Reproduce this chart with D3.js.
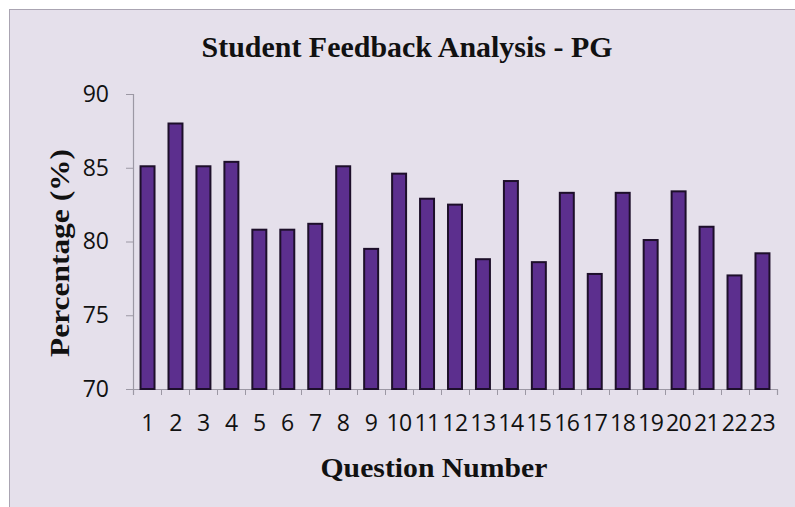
<!DOCTYPE html>
<html>
<head>
<meta charset="utf-8">
<script src="https://cdn.jsdelivr.net/npm/d3@7"></script>
<style>
  body { margin: 0; background: #ffffff; }
</style>
</head>
<body>
<div id="chart"></div>
<script>
// data
var questions = ["1","2","3","4","5","6","7","8","9","10","11","12","13","14","15","16","17","18","19","20","21","22","23"];
var percentages = [85.1, 88.0, 85.1, 85.4, 80.8, 80.8, 81.2, 85.1, 79.5, 84.6, 82.9, 82.5, 78.8, 84.1, 78.6, 83.3, 77.8, 83.3, 80.1, 83.4, 81.0, 77.7, 79.2];
var yTicks = [70, 75, 80, 85, 90];

var width = 795;
var height = 507;
var margin = { top: 94, bottom: 118, left: 133, right: 18 };

var svg = d3.select("#chart").append("svg").attr("width", width).attr("height", height);

// chart area background + frame
svg.append("rect")
  .attr("x", 9.5).attr("y", 9.5)
  .attr("width", width + 10).attr("height", height + 10)
  .attr("fill", "#e5e0eb")
  .attr("stroke", "#aaa4b2")
  .attr("stroke-width", 1);

// scales
var xScale = d3.scaleBand()
  .domain(questions)
  .range([margin.left, width - margin.right])
  .paddingInner(0.5)
  .paddingOuter(0.27);

var yScale = d3.scaleLinear()
  .domain([70, 90])
  .range([height - margin.bottom, margin.top]);

// y axis
var axisy = d3.axisLeft(yScale).tickValues(yTicks).tickSize(7).tickPadding(17);
var gy = svg.append("g")
  .attr("transform", "translate(" + margin.left + ",0)")
  .call(axisy);
gy.select(".domain").attr("stroke", "#9c98a4").attr("stroke-width", 1.2);
gy.selectAll(".tick line").attr("stroke", "#9c98a4");
gy.selectAll("text")
  .attr("font-family", "'Open Sans', sans-serif")
  .attr("font-size", "23px")
  .attr("fill", "#111");

// x axis: category ticks between bars
var xEdge = d3.scaleLinear().domain([0, questions.length]).range([margin.left, width - margin.right]);
var gxTicks = svg.append("g")
  .attr("transform", "translate(0," + (height - margin.bottom) + ")")
  .call(d3.axisBottom(xEdge).ticks(questions.length).tickSize(6).tickFormat(""));
gxTicks.select(".domain").attr("stroke", "#9c98a4").attr("stroke-width", 1.2);
gxTicks.selectAll(".tick line").attr("stroke", "#9c98a4");

// x labels
var gx = svg.append("g")
  .attr("transform", "translate(0," + (height - margin.bottom) + ")")
  .call(d3.axisBottom(xScale).tickSize(0).tickPadding(26));
gx.select(".domain").remove();
gx.selectAll("text")
  .attr("font-family", "'Open Sans', sans-serif")
  .attr("font-size", "23px")
  .attr("letter-spacing", "-0.5px")
  .attr("fill", "#111");

// bars
svg.append("g")
  .selectAll("rect")
  .data(percentages)
  .enter()
  .append("rect")
  .attr("x", function(d, i) { return xScale(questions[i]); })
  .attr("y", function(d) { return yScale(d); })
  .attr("width", xScale.bandwidth())
  .attr("height", function(d) { return yScale(70) - yScale(d); })
  .attr("fill", "#5c2f8e")
  .attr("stroke", "#1d0f2a")
  .attr("stroke-width", 2);

// titles
svg.append("text")
  .attr("x", 407).attr("y", 57)
  .attr("text-anchor", "middle")
  .attr("font-family", "'Liberation Serif', 'Times New Roman', serif")
  .attr("font-weight", "bold")
  .attr("font-size", "29px")
  .attr("textLength", 411)
  .attr("lengthAdjust", "spacingAndGlyphs")
  .attr("fill", "#111")
  .text("Student Feedback Analysis - PG");

svg.append("text")
  .attr("x", 434).attr("y", 477)
  .attr("text-anchor", "middle")
  .attr("font-family", "'Liberation Serif', 'Times New Roman', serif")
  .attr("font-weight", "bold")
  .attr("font-size", "27px")
  .attr("textLength", 227)
  .attr("lengthAdjust", "spacingAndGlyphs")
  .attr("fill", "#111")
  .text("Question Number");

svg.append("text")
  .attr("transform", "translate(69,253) rotate(-90)")
  .attr("text-anchor", "middle")
  .attr("font-family", "'Liberation Serif', 'Times New Roman', serif")
  .attr("font-weight", "bold")
  .attr("font-size", "27px")
  .attr("textLength", 208)
  .attr("lengthAdjust", "spacingAndGlyphs")
  .attr("fill", "#111")
  .text("Percentage (%)");
</script>
</body>
</html>
